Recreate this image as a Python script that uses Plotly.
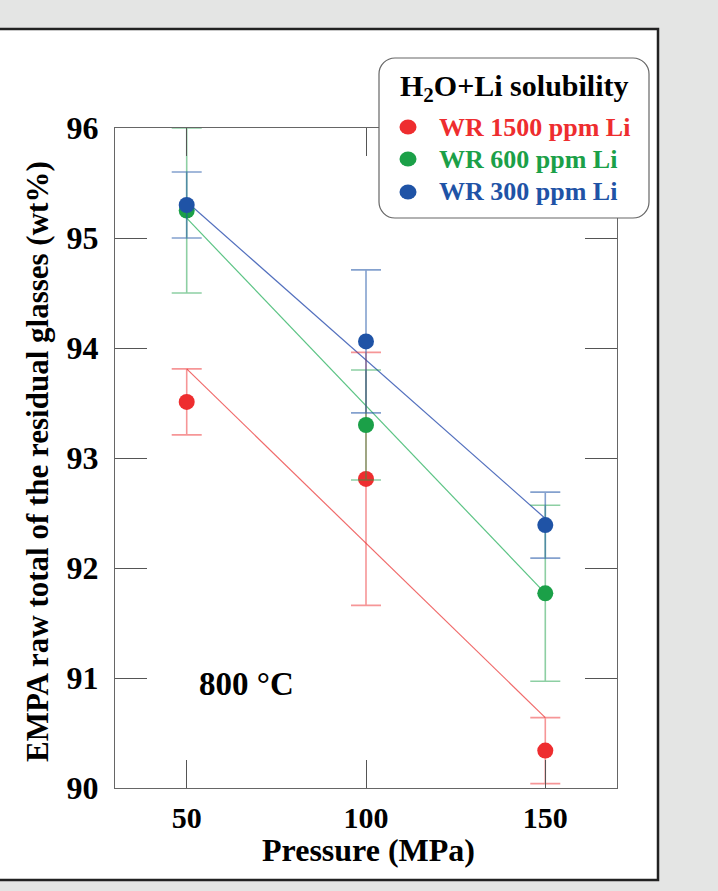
import plotly.graph_objects as go

# ---------------- data ----------------
pressure = [50, 100, 150]
series_names = ["WR 1500 ppm Li", "WR 600 ppm Li", "WR 300 ppm Li"]
red_vals = [93.51, 92.81, 90.34]
red_err = [0.30, 1.15, 0.30]
green_vals = [95.25, 93.30, 91.77]
green_err = [0.75, 0.50, 0.80]
blue_vals = [95.30, 94.06, 92.39]
blue_err = [0.30, 0.65, 0.30]
fit_x = [50, 150]
red_fit = [93.81, 90.64]
green_fit = [95.18, 91.77]
blue_fit = [95.33, 92.45]
x_ticks = [50, 100, 150]
y_ticks = [90, 91, 92, 93, 94, 95, 96]

# ---------------- style ----------------
FONT = "Liberation Serif"
W, H = 718, 891
L, R, T, B = 115, 617, 128, 788


def px(x):
    return (x - L) / (R - L)


def py(y):
    return (B - y) / (B - T)


colors = ["#EE2D2F", "#1BA048", "#1F53A6"]
err_colors = ["rgba(238,45,47,0.5)", "rgba(27,160,72,0.5)", "rgba(31,83,166,0.55)"]
line_colors = ["#F06A6A", "#5CC485", "#5370BE"]

fig = go.Figure()

fits = [red_fit, green_fit, blue_fit]
for i, f in enumerate(fits):
    fig.add_trace(go.Scatter(x=fit_x, y=f, mode="lines",
                             line=dict(color=line_colors[i], width=1.2),
                             showlegend=False, hoverinfo="skip"))

vals = [red_vals, green_vals, blue_vals]
errs = [red_err, green_err, blue_err]
for i in range(3):
    fig.add_trace(go.Scatter(
        x=pressure, y=vals[i], mode="markers", name=series_names[i],
        marker=dict(color=colors[i], size=16, line=dict(width=0)),
        error_y=dict(type="data", array=errs[i], visible=True,
                     color=err_colors[i], thickness=1.6, width=15),
        showlegend=False))

fig.update_xaxes(range=[30, 170], tickvals=x_ticks, ticktext=[str(v) for v in x_ticks],
                 ticks="inside", ticklen=28, tickwidth=1, tickcolor="#555",
                 showline=True, linecolor="#666", linewidth=1.2, mirror="ticks",
                 showgrid=False, zeroline=False,
                 tickfont=dict(family=FONT, size=30, color="black", weight="bold"),
                 ticklabelstandoff=3)
fig.update_yaxes(range=[90, 96], tickvals=y_ticks, ticktext=[str(v) for v in y_ticks],
                 ticks="inside", ticklen=32, tickwidth=1, tickcolor="#555",
                 showline=True, linecolor="#666", linewidth=1.2, mirror="ticks",
                 showgrid=False, zeroline=False,
                 tickfont=dict(family=FONT, size=32, color="black", weight="bold"),
                 ticklabelstandoff=9)

shapes = []
# white panel with dark border
shapes.append(dict(type="rect", xref="paper", yref="paper",
                   x0=px(-20), x1=px(658), y0=py(880), y1=py(29),
                   fillcolor="white", line=dict(color="#222", width=2.5),
                   layer="below"))

# rounded legend box
bx0, bx1, by0, by1, rad = 379, 649, 58, 218, 16
k = 0.45
path = (
    f"M {px(bx0 + rad)},{py(by0)} L {px(bx1 - rad)},{py(by0)} "
    f"C {px(bx1 - rad * k)},{py(by0)} {px(bx1)},{py(by0 + rad * k)} {px(bx1)},{py(by0 + rad)} "
    f"L {px(bx1)},{py(by1 - rad)} "
    f"C {px(bx1)},{py(by1 - rad * k)} {px(bx1 - rad * k)},{py(by1)} {px(bx1 - rad)},{py(by1)} "
    f"L {px(bx0 + rad)},{py(by1)} "
    f"C {px(bx0 + rad * k)},{py(by1)} {px(bx0)},{py(by1 - rad * k)} {px(bx0)},{py(by1 - rad)} "
    f"L {px(bx0)},{py(by0 + rad)} "
    f"C {px(bx0)},{py(by0 + rad * k)} {px(bx0 + rad * k)},{py(by0)} {px(bx0 + rad)},{py(by0)} Z"
)
shapes.append(dict(type="path", xref="paper", yref="paper", path=path,
                   fillcolor="white", line=dict(color="#666", width=1.2), layer="above"))

annotations = []
annotations.append(dict(xref="paper", yref="paper", x=px(514), y=py(88),
                        text="H<sub>2</sub>O+Li solubility", showarrow=False,
                        xanchor="center", yanchor="middle",
                        font=dict(family=FONT, size=30, color="black", weight="bold")))
item_y = [127, 159, 192]
for i in range(3):
    cx, cy = 408, item_y[i]
    shapes.append(dict(type="circle", xref="paper", yref="paper",
                       x0=px(cx - 8.5), x1=px(cx + 8.5), y0=py(cy + 7.5), y1=py(cy - 7.5),
                       fillcolor=colors[i], line=dict(width=0), layer="above"))
    annotations.append(dict(xref="paper", yref="paper", x=px(437), y=py(cy),
                            text=series_names[i], showarrow=False,
                            xanchor="left", yanchor="middle",
                            font=dict(family=FONT, size=26, color=colors[i], weight="bold")))

annotations.append(dict(xref="paper", yref="paper", x=px(246), y=py(684),
                        text="800 °C", showarrow=False, xanchor="center", yanchor="middle",
                        font=dict(family=FONT, size=33, color="black", weight="bold")))
annotations.append(dict(xref="paper", yref="paper", x=px(368), y=py(850),
                        text="Pressure (MPa)", showarrow=False, xanchor="center", yanchor="middle",
                        font=dict(family=FONT, size=32, color="black", weight="bold")))
annotations.append(dict(xref="paper", yref="paper", x=px(37), y=py(462),
                        text="EMPA raw total of the residual glasses (wt%)", showarrow=False,
                        textangle=-90, xanchor="center", yanchor="middle",
                        font=dict(family=FONT, size=31, color="black", weight="bold")))

fig.update_layout(width=W, height=H,
                  margin=dict(l=L, r=W - R, t=T, b=H - B, pad=0),
                  paper_bgcolor="#E4E5E4", plot_bgcolor="rgba(0,0,0,0)",
                  shapes=shapes, annotations=annotations, showlegend=False)

fig.write_html("out.html", config={"displayModeBar": False},
               post_script="document.body.style.margin='0';document.body.style.overflow='hidden';")
